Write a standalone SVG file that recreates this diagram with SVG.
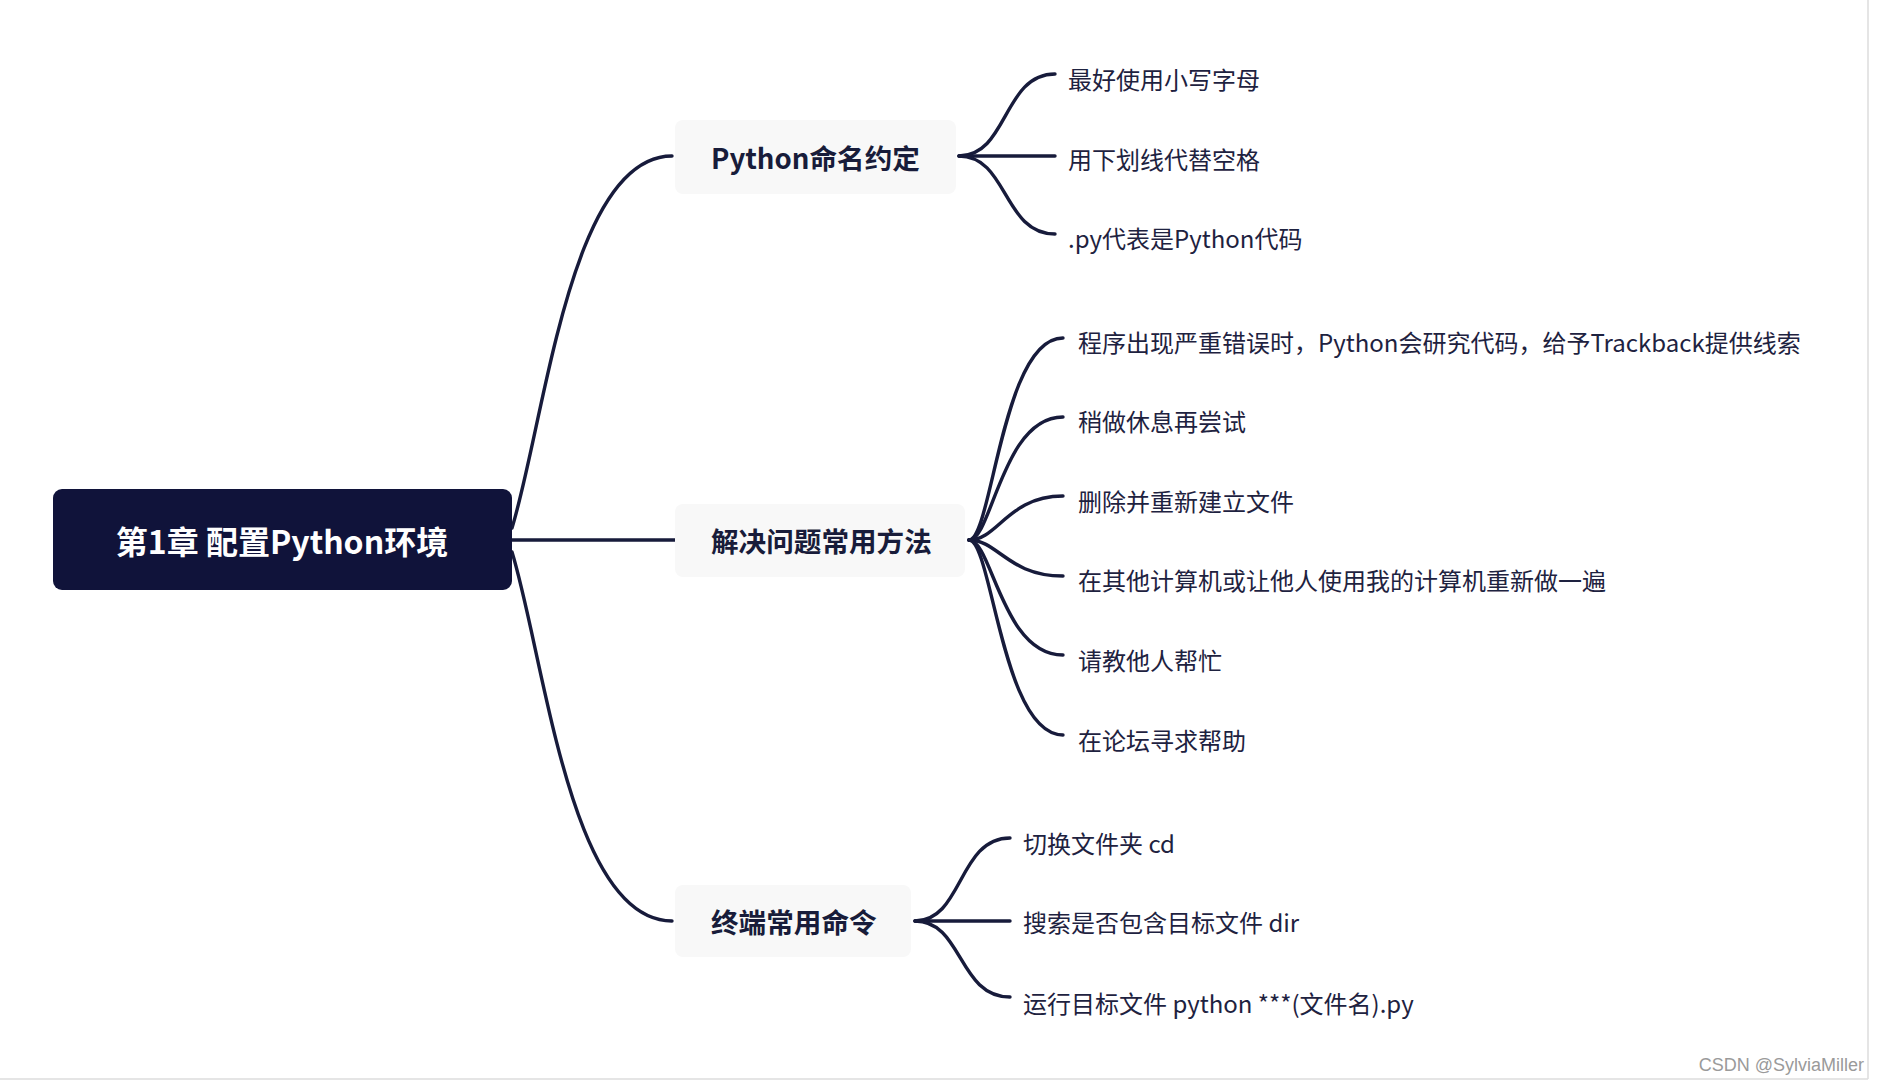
<svg xmlns="http://www.w3.org/2000/svg" width="1880" height="1085" viewBox="0 0 1880 1085">
<style>
.root-box{fill:#10133a;}
.root-text{font-family:"Noto Sans CJK SC","Noto Sans",sans-serif;font-weight:bold;font-size:32px;fill:#ffffff;}
.branch-box{fill:#f8f8f8;}
.branch-text{font-family:"Noto Sans CJK SC","Noto Sans",sans-serif;font-weight:bold;font-size:27.6px;fill:#181c3a;}
.leaf-text{font-family:"Noto Sans CJK SC","Noto Sans",sans-serif;font-size:24px;fill:#1e2240;}
.conn{fill:none;stroke:#171b3b;stroke-width:3.4;stroke-linecap:round;}
.wm{font-family:"Liberation Sans",Arial,sans-serif;font-size:18px;fill:#9a9a9a;}
</style>
<rect width="1880" height="1085" fill="#ffffff"/>
<line x1="1868" y1="0" x2="1868" y2="1079" stroke="#dddddd" stroke-width="1.5"/>
<line x1="0" y1="1079" x2="1868" y2="1079" stroke="#dddddd" stroke-width="1.5"/>

<g id="connectors">
  <path class="conn" d="M512,528 C545,420 570,156 672,156"/>
  <path class="conn" d="M512,540 L675,540"/>
  <path class="conn" d="M512,552 C545,660 570,921 672,921"/>

  <path class="conn" d="M959,156 C1008,156 1003,74 1055,74"/>
  <path class="conn" d="M959,156 L1055,156"/>
  <path class="conn" d="M959,156 C1008,156 1003,234 1055,234"/>

  <path class="conn" d="M969,540 C992,540 1002,338 1063,338"/>
  <path class="conn" d="M969,540 C992,540 1002,417 1063,417"/>
  <path class="conn" d="M969,540 C998,540 1008,496 1063,496"/>
  <path class="conn" d="M969,540 C998,540 1008,576 1063,576"/>
  <path class="conn" d="M969,540 C992,540 1002,655 1063,655"/>
  <path class="conn" d="M969,540 C992,540 1002,735 1063,735"/>

  <path class="conn" d="M915,921 C963,921 958,838 1010,838"/>
  <path class="conn" d="M915,921 L1010,921"/>
  <path class="conn" d="M915,921 C963,921 958,997 1010,997"/>
</g>

<g id="root">
  <rect class="root-box" x="53" y="489" width="459" height="101" rx="9"/>
  <text class="root-text" x="282" y="540" text-anchor="middle" dominant-baseline="central">第1章 配置Python环境</text>
</g>

<g id="branch-naming">
  <rect class="branch-box" x="675" y="120" width="281" height="74" rx="8"/>
  <text class="branch-text" x="711" y="157" dominant-baseline="central">Python命名约定</text>
</g>
<g id="branch-solve">
  <rect class="branch-box" x="675" y="504" width="290" height="73" rx="8"/>
  <text class="branch-text" x="711" y="540" dominant-baseline="central">解决问题常用方法</text>
</g>
<g id="branch-terminal">
  <rect class="branch-box" x="675" y="885" width="236" height="72" rx="8"/>
  <text class="branch-text" x="711" y="921" dominant-baseline="central">终端常用命令</text>
</g>

<g id="leaf-n1"><text class="leaf-text" x="1068" y="78" dominant-baseline="central">最好使用小写字母</text></g>
<g id="leaf-n2"><text class="leaf-text" x="1068" y="158" dominant-baseline="central">用下划线代替空格</text></g>
<g id="leaf-n3"><text class="leaf-text" x="1068" y="237" dominant-baseline="central">.py代表是Python代码</text></g>

<g id="leaf-s1"><text class="leaf-text" x="1078" y="341" dominant-baseline="central">程序出现严重错误时，Python会研究代码，给予Trackback提供线索</text></g>
<g id="leaf-s2"><text class="leaf-text" x="1078" y="420" dominant-baseline="central">稍做休息再尝试</text></g>
<g id="leaf-s3"><text class="leaf-text" x="1078" y="500" dominant-baseline="central">删除并重新建立文件</text></g>
<g id="leaf-s4"><text class="leaf-text" x="1078" y="579" dominant-baseline="central">在其他计算机或让他人使用我的计算机重新做一遍</text></g>
<g id="leaf-s5"><text class="leaf-text" x="1078" y="659" dominant-baseline="central">请教他人帮忙</text></g>
<g id="leaf-s6"><text class="leaf-text" x="1078" y="739" dominant-baseline="central">在论坛寻求帮助</text></g>

<g id="leaf-t1"><text class="leaf-text" x="1023" y="842" dominant-baseline="central">切换文件夹 cd</text></g>
<g id="leaf-t2"><text class="leaf-text" x="1023" y="921" dominant-baseline="central">搜索是否包含目标文件 dir</text></g>
<g id="leaf-t3"><text class="leaf-text" x="1023" y="1002" dominant-baseline="central">运行目标文件 python ***(文件名).py</text></g>

<text class="wm" x="1864" y="1071" text-anchor="end">CSDN @SylviaMiller</text>
</svg>
